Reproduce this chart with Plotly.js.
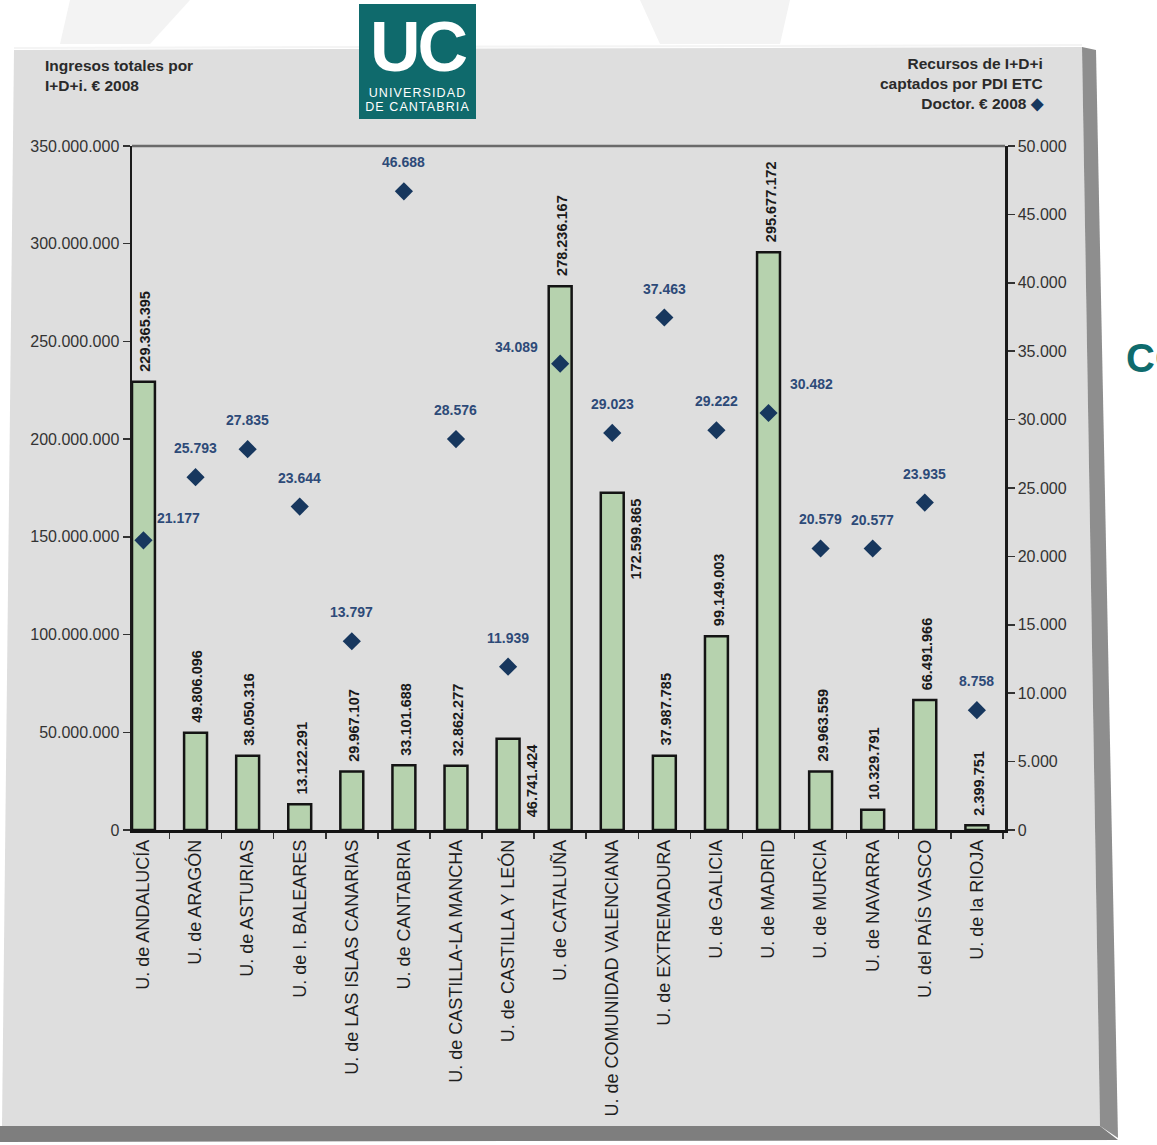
<!DOCTYPE html>
<html>
<head>
<meta charset="utf-8">
<script src="https://cdn.plot.ly/plotly-3.0.1.min.js"></script>
<style>
  html, body { margin:0; padding:0; width:1157px; height:1145px; overflow:hidden; background:#ffffff; }
  #bg { position:absolute; left:0; top:0; }
  #chart { position:absolute; left:0; top:0; width:1157px; height:1145px; }
  #logo { position:absolute; left:359px; top:4px; width:117px; height:115px; background:#0f6a6c; color:#fff;
          font-family:"Liberation Sans", Arial, sans-serif; z-index:5; overflow:hidden; }
  #logo .uc { position:absolute; left:3px; top:4px; width:111px; text-align:center; font-weight:bold; font-size:70px; line-height:78px; height:78px; letter-spacing:-3px; }
  #logo .un { position:absolute; left:0; width:117px; text-align:center; font-size:12.5px; line-height:14px; letter-spacing:1.1px; }
  #logo .l1 { top:82px; }
  #logo .l2 { top:96px; }
  #co { position:absolute; left:1126px; top:336px; color:#0e6b6d; font-family:"Liberation Sans", Arial, sans-serif; font-weight:bold; font-size:40px; z-index:5; }
</style>
</head>
<body>
<svg id="bg" width="1157" height="1145">
  <polygon points="70,0 190,0 150,44 60,44" fill="#f3f3f3"/>
  <polygon points="640,0 790,0 780,44 660,44" fill="#f3f3f3"/>
  <polygon points="14,50 1082,47 1100,1126 2,1126" fill="#dedede"/>
  <polygon points="1082,47 1096,50 1118,1138 1100,1126" fill="#8e8e8e"/>
  <polygon points="0,1126 1100,1126 1118,1140 0,1142" fill="#7e7e7e"/>
  <line x1="14" y1="48" x2="1082" y2="45" stroke="#f4f4f4" stroke-width="2"/>
</svg>
<div id="logo"><div class="uc">UC</div><div class="un l1">UNIVERSIDAD</div><div class="un l2">DE CANTABRIA</div></div>
<div id="co">CO</div>
<div id="chart"></div>
<script>
// ---- data ----
var universidades = ["U. de ANDALUCÍA","U. de ARAGÓN","U. de ASTURIAS","U. de I. BALEARES","U. de LAS ISLAS CANARIAS","U. de CANTABRIA","U. de CASTILLA-LA MANCHA","U. de CASTILLA Y LEÓN","U. de CATALUÑA","U. de COMUNIDAD VALENCIANA","U. de EXTREMADURA","U. de GALICIA","U. de MADRID","U. de MURCIA","U. de NAVARRA","U. del PAÍS VASCO","U. de la RIOJA"];
var ingresosTotales = [229365395, 49806096, 38050316, 13122291, 29967107, 33101688, 32862277, 46741424, 278236167, 172599865, 37987785, 99149003, 295677172, 29963559, 10329791, 66491966, 2399751];
var recursosPDI = [21177, 25793, 27835, 23644, 13797, 46688, 28576, 11939, 34089, 29023, 37463, 29222, 30482, 20579, 20577, 23935, 8758];
var leftTicks = [0, 50000000, 100000000, 150000000, 200000000, 250000000, 300000000, 350000000];
var rightTicks = [0, 5000, 10000, 15000, 20000, 25000, 30000, 35000, 40000, 45000, 50000];

// ---- layout helpers ----
var L = 132, R = 1005, T = 146, B = 830;
function px(x){ return (x - L) / (R - L); }
function py(y){ return (B - y) / (B - T); }
function fmt(n){ return n.toString().replace(/\B(?=(\d{3})+(?!\d))/g, "."); }

var FONT = '"Liberation Sans", Arial, sans-serif';

var bars = {
  type:'bar', x:universidades, y:ingresosTotales, width:0.44,
  marker:{color:'#b6d2ae', line:{color:'#141414', width:2.5}},
  hoverinfo:'x+y', showlegend:false
};
var diamonds = {
  type:'scatter', mode:'markers', x:universidades, y:recursosPDI, yaxis:'y2',
  marker:{symbol:'diamond', size:14, color:'#17375e', line:{width:0}},
  showlegend:false
};

var annotations = [];
// bar value labels
var barLabelShift = {7:{xshift:24, top:true}, 9:{xshift:24, top:true}};
for (var i=0;i<universidades.length;i++){
  var s = barLabelShift[i];
  annotations.push({
    x:universidades[i], y:ingresosTotales[i], xref:'x', yref:'y',
    text:fmt(ingresosTotales[i]), showarrow:false, textangle:-90,
    xanchor:'center', yanchor: s && s.top ? 'top' : 'bottom',
    xshift: s ? s.xshift : 2, yshift: s && s.top ? -4 : 8,
    font:{family:FONT, size:14.5, color:'#1a1a1a', weight:'bold'}
  });
}
// diamond labels
var dShift = {0:{x:35,y:22}, 8:{x:-44,y:17}, 12:{x:43,y:29}};
for (var j=0;j<universidades.length;j++){
  var d = dShift[j] || {x:0, y:29};
  annotations.push({
    x:universidades[j], y:recursosPDI[j], xref:'x', yref:'y2',
    text:fmt(recursosPDI[j]), showarrow:false, xanchor:'center', yanchor:'middle',
    xshift:d.x, yshift:d.y,
    font:{family:FONT, size:14, color:'#2d4a78', weight:'bold'}
  });
}
// axis titles
annotations.push({
  xref:'paper', yref:'paper', x:px(43), y:py(55), xanchor:'left', yanchor:'top', align:'left',
  text:'<b>Ingresos totales por<br>I+D+i. € 2008</b>', showarrow:false,
  font:{family:FONT, size:15.5, color:'#2a2a2a'}
});
annotations.push({
  xref:'paper', yref:'paper', x:px(1046), y:py(53), xanchor:'right', yanchor:'top', align:'right',
  text:'<b>Recursos de I+D+i<br>captados por PDI ETC<br>Doctor. € 2008 <span style="color:#17375e">◆</span></b>', showarrow:false,
  font:{family:FONT, size:15.5, color:'#2a2a2a'}
});

var layout = {
  width:1157, height:1145,
  margin:{l:L, r:1157-R, t:T, b:1145-B, autoexpand:false},
  paper_bgcolor:'rgba(0,0,0,0)', plot_bgcolor:'rgba(0,0,0,0)',
  separators:',.',
  xaxis:{
    type:'category', range:[-0.22, 16.54], tickangle:-90,
    tickfont:{family:FONT, size:18, color:'#1e1e1e'},
    showline:true, linecolor:'#141414', linewidth:2.5,
    ticks:'outside', tickson:'boundaries', ticklen:6, tickcolor:'#333', tickwidth:1.5,
    showgrid:false, zeroline:false
  },
  yaxis:{
    range:[0, 350000000], tickvals:leftTicks, ticktext:leftTicks.map(fmt),
    tickfont:{family:FONT, size:16, color:'#333'},
    showline:true, linecolor:'#1a1a1a', linewidth:2.5,
    ticks:'outside', ticklen:7, tickcolor:'#333', tickwidth:1.5,
    showgrid:false, zeroline:false
  },
  yaxis2:{
    overlaying:'y', side:'right', range:[0, 50000], tickvals:rightTicks, ticktext:rightTicks.map(fmt),
    tickfont:{family:FONT, size:16, color:'#333'},
    showline:true, linecolor:'#1a1a1a', linewidth:2.5,
    ticks:'outside', ticklen:7, tickcolor:'#333', tickwidth:1.5,
    showgrid:false, zeroline:false
  },
  shapes:[
    {type:'line', xref:'paper', yref:'paper', x0:0, x1:1, y0:1, y1:1, line:{color:'#6a6a6a', width:2.5}}
  ],
  annotations:annotations,
  showlegend:false
};

Plotly.newPlot('chart', [bars, diamonds], layout, {displayModeBar:false, staticPlot:true});
</script>
</body>
</html>
